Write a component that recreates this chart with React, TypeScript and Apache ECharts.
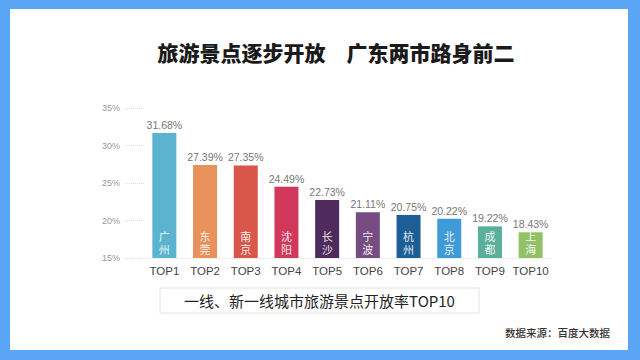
import React, { useEffect, useRef } from "react";
import * as echarts from "echarts";

const categories = ["TOP1", "TOP2", "TOP3", "TOP4", "TOP5", "TOP6", "TOP7", "TOP8", "TOP9", "TOP10"];
const cities = ["广州", "东莞", "南京", "沈阳", "长沙", "宁波", "杭州", "北京", "成都", "上海"];
const values = [31.68, 27.39, 27.35, 24.49, 22.73, 21.11, 20.75, 20.22, 19.22, 18.43];
const barColors = ["#5bb3d0", "#e8915b", "#d8574a", "#d2385b", "#4f2a5c", "#764c82", "#1e5e96", "#3f9ad8", "#5bb09c", "#93c266"];
const yTicks = { min: 15, max: 35, interval: 5 };

const FONT = '"Noto Sans CJK SC", "Noto Sans", sans-serif';
const LATIN = '"Liberation Sans", "Noto Sans CJK SC", sans-serif';

export default function App() {
  const ref = useRef<HTMLDivElement>(null);
  useEffect(() => {
    document.body.style.margin = "0";
    const chart = echarts.init(ref.current!, null, { renderer: "svg" });
    chart.setOption({
      animation: false,
      backgroundColor: "#5ba5f6",
      textStyle: { fontFamily: FONT },
      graphic: [
        {
          type: "rect",
          z: -10,
          shape: { x: 10, y: 9, width: 618, height: 341 },
          style: { fill: "#ffffff" },
        },
        {
          type: "text",
          x: 336,
          y: 52,
          style: {
            text: "旅游景点逐步开放　广东两市路身前二",
            fontFamily: FONT,
            fontSize: 21,
            fontWeight: 900,
            fill: "#1a1a1a",
            textAlign: "center",
            textVerticalAlign: "middle",
          },
        },
        {
          type: "rect",
          shape: { x: 160, y: 288, width: 319, height: 25 },
          style: { fill: "#ffffff", stroke: "#e2e2e2", lineWidth: 1 },
        },
        {
          type: "text",
          x: 319.5,
          y: 300.5,
          style: {
            text: "一线、新一线城市旅游景点开放率TOP10",
            fontFamily: FONT,
            fontSize: 15,
            fill: "#222222",
            textAlign: "center",
            textVerticalAlign: "middle",
          },
        },
        {
          type: "text",
          x: 610,
          y: 332,
          style: {
            text: "数据来源：百度大数据",
            fontFamily: FONT,
            fontSize: 10.5,
            fontWeight: 500,
            fill: "#333333",
            textAlign: "right",
            textVerticalAlign: "middle",
          },
        },
      ],
      grid: { left: 144, right: 89, top: 108, bottom: 102 },
      xAxis: {
        type: "category",
        data: categories,
        axisLine: { show: true, lineStyle: { color: "#eeeeee" } },
        axisTick: { show: false },
        axisLabel: { interval: 0, color: "#444444", fontSize: 11.5, margin: 7, fontFamily: LATIN },
      },
      yAxis: {
        type: "value",
        min: yTicks.min,
        max: yTicks.max,
        interval: yTicks.interval,
        axisLine: { show: false },
        splitLine: { show: false },
        axisTick: { show: true, length: 20, lineStyle: { color: "#dddddd", type: "dotted" } },
        axisLabel: { formatter: "{value}%", color: "#999999", fontSize: 9, margin: 24, fontFamily: LATIN },
      },
      series: [
        {
          type: "bar",
          barWidth: 24,
          data: values.map((v, i) => ({ value: v, itemStyle: { color: barColors[i] } })),
          label: {
            show: true,
            position: "insideBottom",
            distance: 3,
            formatter: (p: any) => cities[p.dataIndex].split("").join("\n"),
            color: "rgba(255,255,255,0.9)",
            fontSize: 11,
            lineHeight: 13,
            fontFamily: FONT,
          },
        },
        {
          type: "bar",
          barWidth: 24,
          barGap: "-100%",
          data: values,
          itemStyle: { color: "rgba(0,0,0,0)" },
          z: 1,
          label: {
            show: true,
            position: "top",
            distance: 3,
            formatter: (p: any) => values[p.dataIndex].toFixed(2) + "%",
            color: "#777777",
            fontSize: 10.5,
            fontFamily: LATIN,
          },
        },
      ],
    });
    return () => chart.dispose();
  }, []);
  return <div ref={ref} style={{ width: 640, height: 360 }} />;
}
